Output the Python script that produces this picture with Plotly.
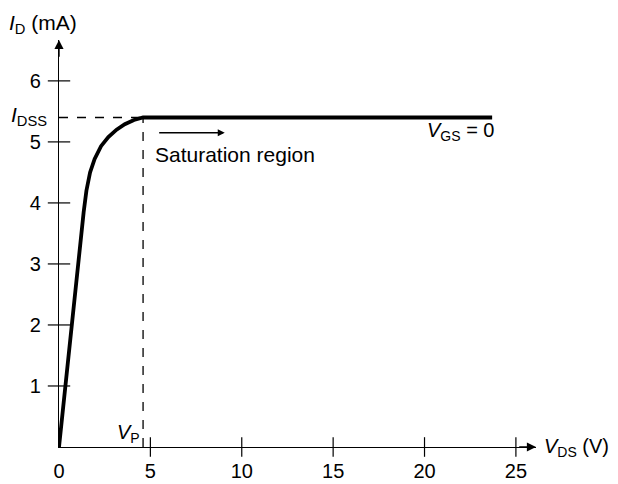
import plotly.graph_objects as go

# Data
vds = [0, 0.35, 0.7, 1.05, 1.35, 1.5, 1.7, 1.95, 2.3, 2.7, 3.15, 3.6, 4.1, 4.6, 23.7]
id_ma = [0, 1.0, 2.1, 3.1, 3.85, 4.2, 4.5, 4.72, 4.93, 5.08, 5.2, 5.29, 5.36, 5.4, 5.4]
idss = 5.4
vp = 4.6
x_ticks = [0, 5, 10, 15, 20, 25]
y_ticks = [1, 2, 3, 4, 5, 6]
x_max = 26.1
y_max = 6.67

FONT = "Liberation Sans, Arial, sans-serif"
fig = go.Figure()

# Main curve
fig.add_trace(go.Scatter(x=vds, y=id_ma, mode="lines", line=dict(color="black", width=3.8),
                         hoverinfo="skip", cliponaxis=False))
# tick marks crossing the axes
fig.add_trace(go.Scatter(x=x_ticks[1:], y=[0] * (len(x_ticks) - 1), mode="markers",
                         marker=dict(symbol="line-ns-open", size=14, color="black",
                                     line=dict(color="black", width=1.2)),
                         cliponaxis=False, hoverinfo="skip"))
fig.add_trace(go.Scatter(x=[0] * len(y_ticks), y=y_ticks, mode="markers",
                         marker=dict(symbol="line-ew-open", size=16, color="black",
                                     line=dict(color="black", width=1.2)),
                         cliponaxis=False, hoverinfo="skip"))

# dashed guides
fig.add_shape(type="line", x0=0, y0=idss, x1=vp, y1=idss, line=dict(color="black", width=1.3, dash="dash"))
fig.add_shape(type="line", x0=vp, y0=0, x1=vp, y1=idss, line=dict(color="black", width=1.3, dash="dash"))

# axis arrows
fig.add_annotation(x=x_max, y=0, ax=x_max - 1.0, ay=0, axref="x", ayref="y", text="", showarrow=True,
                   arrowhead=2, arrowsize=1.3, arrowwidth=1.4, arrowcolor="black")
fig.add_annotation(x=0, y=y_max, ax=0, ay=y_max - 0.3, axref="x", ayref="y", text="", showarrow=True,
                   arrowhead=2, arrowsize=1.3, arrowwidth=1.4, arrowcolor="black")
# saturation arrow
fig.add_annotation(x=9.07, y=5.15, ax=5.4, ay=5.15, axref="x", ayref="y", text="", showarrow=True,
                   arrowhead=2, arrowsize=1.0, arrowwidth=1.4, arrowcolor="black")

fs = 20
def label(text, x, y, xanchor="left", yanchor="middle", size=fs):
    # paper coordinates so that labels outside the axis range are still drawn
    fig.add_annotation(x=x / x_max, y=y / y_max, xref="paper", yref="paper", text=text, showarrow=False,
                       xanchor=xanchor, yanchor=yanchor, borderpad=0,
                       font=dict(family=FONT, size=size, color="black"))

label("<i>I</i><sub>D</sub> (mA)", -2.8, 6.93, size=21)
label("<i>I</i><sub>DSS</sub>", -0.62, idss + 0.02, xanchor="right", size=21)
label("<i>V</i><sub>P</sub>", vp - 0.12, 0.22, xanchor="right")
label("<i>V</i><sub>DS</sub> (V)", 26.5, 0.0, size=20)
label("Saturation region", 5.2, 4.8, size=21)
label("<i>V</i><sub>GS</sub> = 0", 23.9, 5.17, xanchor="right")

# the page body has an 8 px margin, so the figure is 8 px smaller and the margins are shifted
fig.update_layout(
    template="none",
    width=610, height=476,
    margin=dict(l=51, r=82, t=32, b=37, autoexpand=False),
    paper_bgcolor="white", plot_bgcolor="white",
    showlegend=False,
    font=dict(family=FONT, size=fs, color="black"),
    xaxis=dict(range=[0, x_max], tickvals=x_ticks, ticktext=[str(v) for v in x_ticks],
               automargin=False,
               showgrid=False, zeroline=False, showline=True, linecolor="black", linewidth=1.4,
               ticks="outside", ticklen=6, tickcolor="rgba(0,0,0,0)",
               tickfont=dict(family=FONT, size=fs)),
    yaxis=dict(range=[0, y_max], tickvals=y_ticks, ticktext=[str(v) for v in y_ticks],
               automargin=False,
               showgrid=False, zeroline=False, showline=True, linecolor="black", linewidth=1.4,
               ticks="outside", ticklen=13, tickcolor="rgba(0,0,0,0)",
               tickfont=dict(family=FONT, size=fs)),
)

fig.write_html("out.html")
